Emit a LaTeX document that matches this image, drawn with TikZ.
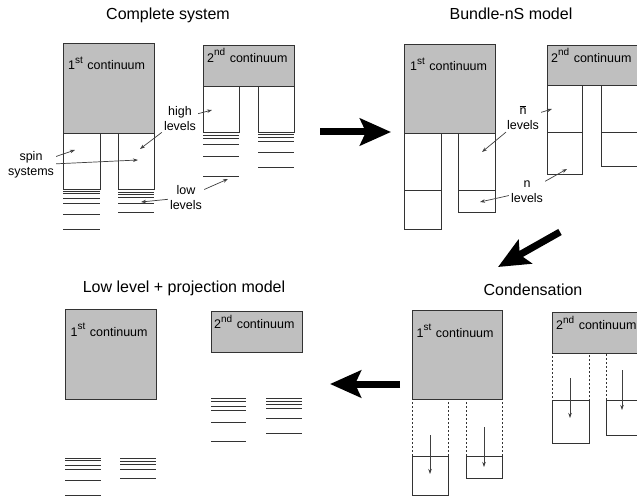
\documentclass[tikz,border=0pt]{standalone}
\usepackage{fontspec}
\setmainfont{Liberation Sans}
\usetikzlibrary{arrows.meta}
\newcommand{\ordsup}[1]{\raisebox{6.5pt}{\fontsize{10}{12}\selectfont #1}\hspace{1pt}}

\begin{document}
\begin{tikzpicture}[x=1pt,y=-1pt,
    box/.style={draw=black!80,line width=0.8pt,inner sep=0pt,outer sep=0pt,anchor=north west},
    cont/.style={box,fill=black!25},
    spin/.style={box,fill=white},
    ghost/.style={box,dash pattern=on 2pt off 2pt},
    ctext/.style={font=\fontsize{12.5}{15}\selectfont,inner sep=0pt,anchor=base west},
    lbl/.style={font=\fontsize{12.5}{15}\selectfont,align=center,inner sep=2pt},
    ttl/.style={font=\fontsize{16}{19}\selectfont,inner sep=0pt},
    lvl/.style={draw=black!80,line width=0.8pt},
    pointer/.style={-{Stealth[length=5pt,width=3.5pt]},color=black!75,line width=0.7pt},
    bigarrow/.style={-{Stealth[length=31pt,width=27pt,inset=6pt]},line width=7pt}
  ]
  \useasboundingbox (0,0) rectangle (637,497);
  \clip (0,0) rectangle (637,497);

  % complete system
  \node[ttl] (ttlA) at (168,15.5) {Complete system};
  \node[cont,minimum width=91,minimum height=90] (c1A) at (63,43) {};
  \node[spin,minimum width=37,minimum height=56] (s1A) at (63,133) {};
  \node[spin,minimum width=36,minimum height=56] (s2A) at (118,133) {};
  \node[cont,minimum width=91,minimum height=41] (c2A) at (203,45) {};
  \node[spin,minimum width=36,minimum height=46] (s3A) at (203,86) {};
  \node[spin,minimum width=36,minimum height=46] (s4A) at (258,86) {};
  \node[ctext] (t1A) at ([shift={(5,27)}]c1A.north west) {1\ordsup{st} continuum};
  \node[ctext] (t2A) at ([shift={(4,17.5)}]c2A.north west) {2\ordsup{nd} continuum};
  \foreach \y in {191,193,198,203,214,229} \draw[lvl] (63,\y) -- (100,\y);
  \foreach \y in {192,194,197,203,212} \draw[lvl] (118,\y) -- (154,\y);
  \foreach \y in {135,138,144,156,176} \draw[lvl] (203,\y) -- (239,\y);
  \foreach \y in {134,137,141,152,167} \draw[lvl] (258,\y) -- (294,\y);
  \node[lbl] (spinA) at (31,165) {spin\\systems};
  \node[lbl] (highA) at (180,118.5) {high\\levels};
  \node[lbl] (lowA) at (186,197.5) {low\\levels};
  \coordinate (pS1) at (75,150);
  \coordinate (pS2) at (138,160);
  \coordinate (pH1) at (212,110);
  \coordinate (pH2) at (140,149);
  \coordinate (pL1) at (228,179);
  \coordinate (pL2) at (141,202);
  \path[pointer]
    (spinA) edge (pS1) edge (pS2)
    (highA) edge (pH1) edge (pH2)
    (lowA) edge (pL1) edge (pL2);

  % bundle-nS model
  \node[ttl] (ttlB) at (511,14) {Bundle-nS model};
  \node[cont,minimum width=91,minimum height=89] (c1B) at (404,44) {};
  \node[spin,minimum width=37,minimum height=57] (s1B) at (404,133) {};
  \node[spin,minimum width=37,minimum height=39] (n1B) at (404,190) {};
  \node[spin,minimum width=37,minimum height=57] (s2B) at (458,133) {};
  \node[spin,minimum width=37,minimum height=22] (n2B) at (458,190) {};
  \node[cont,minimum width=91,minimum height=40] (c2B) at (547,45) {};
  \node[spin,minimum width=35,minimum height=47] (s3B) at (547,85) {};
  \node[spin,minimum width=35,minimum height=42] (n3B) at (547,132) {};
  \node[spin,minimum width=36,minimum height=47] (s4B) at (601,85) {};
  \node[spin,minimum width=36,minimum height=34] (n4B) at (601,132) {};
  \node[ctext] (t1B) at ([shift={(6,27)}]c1B.north west) {1\ordsup{st} continuum};
  \node[ctext] (t2B) at ([shift={(4,17.5)}]c2B.north west) {2\ordsup{nd} continuum};
  \node[lbl] (nbarB) at (523,118) {$\overline{\mbox{n}}$\\levels};
  \node[lbl] (nB) at (527,191.5) {n\\levels};
  \coordinate (pB1) at (552,109);
  \coordinate (pB2) at (482,152);
  \coordinate (pB3) at (567,169);
  \coordinate (pB4) at (480,202);
  \path[pointer]
    (nbarB) edge (pB1) edge (pB2)
    (nB) edge (pB3) edge (pB4);

  % low level + projection model
  \node[ttl] (ttlC) at (184,288.5) {Low level + projection model};
  \node[cont,minimum width=91,minimum height=90] (c1C) at (65,309) {};
  \node[cont,minimum width=91,minimum height=41] (c2C) at (211,311) {};
  \node[ctext] (t1C) at ([shift={(5.5,27)}]c1C.north west) {1\ordsup{st} continuum};
  \node[ctext] (t2C) at ([shift={(3,17.5)}]c2C.north west) {2\ordsup{nd} continuum};
  \foreach \y in {458,460,465,469,480,495} \draw[lvl] (65,\y) -- (101,\y);
  \foreach \y in {458,461,464,469,478} \draw[lvl] (120,\y) -- (156,\y);
  \foreach \y in {398,401,406,410,422,441} \draw[lvl] (211,\y) -- (246,\y);
  \foreach \y in {398,401,404,408,418,433} \draw[lvl] (266,\y) -- (302,\y);

  % condensation
  \node[ttl] (ttlD) at (533,290) {Condensation};
  \node[ghost,minimum width=36,minimum height=57] (g1D) at (412,399) {};
  \node[ghost,minimum width=36,minimum height=57] (g2D) at (466,399) {};
  \node[ghost,minimum width=37,minimum height=47] (g3D) at (552,353) {};
  \node[ghost,minimum width=36,minimum height=47] (g4D) at (606,353) {};
  \node[cont,minimum width=90,minimum height=89] (c1D) at (412,310) {};
  \node[spin,minimum width=36,minimum height=39] (n1D) at (412,456) {};
  \node[spin,minimum width=36,minimum height=22] (n2D) at (466,456) {};
  \node[cont,minimum width=91,minimum height=41] (c2D) at (552,312) {};
  \node[spin,minimum width=37,minimum height=43] (n3D) at (552,400) {};
  \node[spin,minimum width=36,minimum height=35] (n4D) at (606,400) {};
  \node[ctext] (t1D) at ([shift={(4.5,27)}]c1D.north west) {1\ordsup{st} continuum};
  \node[ctext] (t2D) at ([shift={(4,17.5)}]c2D.north west) {2\ordsup{nd} continuum};
  \coordinate (d1) at (430,435);  \coordinate (e1) at (430,474);
  \coordinate (d2) at (484,427);  \coordinate (e2) at (484,467);
  \coordinate (d3) at (570,378);  \coordinate (e3) at (570,418);
  \coordinate (d4) at (622,370);  \coordinate (e4) at (622,410);
  \path[pointer] (d1) edge (e1) (d2) edge (e2) (d3) edge (e3) (d4) edge (e4);

  % steps between the models
  \coordinate (fromA) at (320,132);  \coordinate (toB) at (391,132);
  \coordinate (fromB) at (560,232);  \coordinate (toD) at (498,267);
  \coordinate (fromD) at (400,384);  \coordinate (toC) at (330,384);
  \draw[bigarrow] (fromA) -- (toB);
  \draw[bigarrow] (fromB) -- (toD);
  \draw[bigarrow] (fromD) -- (toC);
\end{tikzpicture}
\end{document}
